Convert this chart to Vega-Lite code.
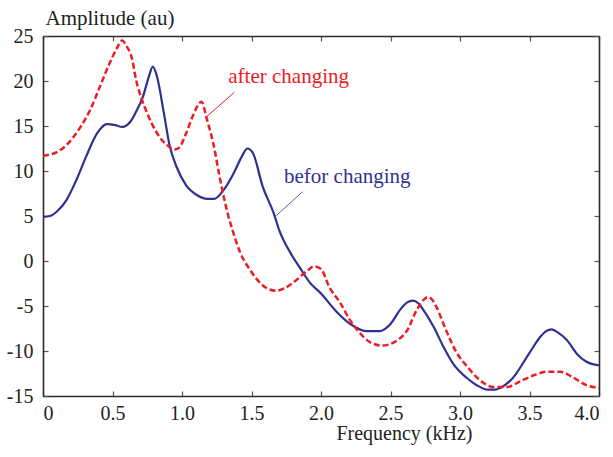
{
  "$schema": "https://vega.github.io/schema/vega-lite/v6.json",
  "autosize": "none",
  "width": 556,
  "height": 360,
  "padding": {"left": 43, "top": 36, "right": 14, "bottom": 61},
  "background": "white",
  "config": {
    "view": {"stroke": null},
    "font": "Liberation Serif",
    "axis": {
      "domainColor": "#2a2a2a",
      "domainWidth": 1.6,
      "tickColor": "#555555",
      "tickWidth": 1.2,
      "tickSize": -5,
      "grid": false,
      "labelFont": "Liberation Serif",
      "labelFontSize": 20,
      "labelColor": "#222222",
      "titleFont": "Liberation Serif",
      "titleFontSize": 20,
      "titleFontWeight": "normal",
      "titleColor": "#222222"
    }
  },
  "datasets": {
    "curves": [
      {"s": "before", "f": 0, "a": 4.9}, {"s": "before", "f": 0.05, "a": 5.0}, {"s": "before", "f": 0.1, "a": 5.5}, {"s": "before", "f": 0.17, "a": 6.8}, {"s": "before", "f": 0.24, "a": 9.0}, {"s": "before", "f": 0.31, "a": 11.6}, {"s": "before", "f": 0.39, "a": 14.2}, {"s": "before", "f": 0.46, "a": 15.2}, {"s": "before", "f": 0.52, "a": 15.1}, {"s": "before", "f": 0.57, "a": 14.9}, {"s": "before", "f": 0.63, "a": 15.5}, {"s": "before", "f": 0.67, "a": 16.6}, {"s": "before", "f": 0.72, "a": 18.3}, {"s": "before", "f": 0.76, "a": 20.4}, {"s": "before", "f": 0.79, "a": 21.6}, {"s": "before", "f": 0.82, "a": 20.5}, {"s": "before", "f": 0.87, "a": 16.4}, {"s": "before", "f": 0.91, "a": 12.9}, {"s": "before", "f": 0.96, "a": 10.5}, {"s": "before", "f": 1.03, "a": 8.4}, {"s": "before", "f": 1.11, "a": 7.3}, {"s": "before", "f": 1.18, "a": 6.9}, {"s": "before", "f": 1.23, "a": 6.9}, {"s": "before", "f": 1.3, "a": 7.9}, {"s": "before", "f": 1.37, "a": 9.7}, {"s": "before", "f": 1.43, "a": 11.6}, {"s": "before", "f": 1.47, "a": 12.5}, {"s": "before", "f": 1.51, "a": 12.0}, {"s": "before", "f": 1.58, "a": 8.3}, {"s": "before", "f": 1.66, "a": 5.3}, {"s": "before", "f": 1.7, "a": 3.4}, {"s": "before", "f": 1.78, "a": 0.9}, {"s": "before", "f": 1.85, "a": -0.8}, {"s": "before", "f": 1.92, "a": -2.4}, {"s": "before", "f": 2.0, "a": -3.6}, {"s": "before", "f": 2.11, "a": -5.6}, {"s": "before", "f": 2.23, "a": -7.2}, {"s": "before", "f": 2.33, "a": -7.8}, {"s": "before", "f": 2.42, "a": -7.8}, {"s": "before", "f": 2.5, "a": -7.0}, {"s": "before", "f": 2.57, "a": -5.4}, {"s": "before", "f": 2.62, "a": -4.6}, {"s": "before", "f": 2.66, "a": -4.4}, {"s": "before", "f": 2.7, "a": -4.7}, {"s": "before", "f": 2.73, "a": -5.3}, {"s": "before", "f": 2.81, "a": -7.3}, {"s": "before", "f": 2.88, "a": -9.5}, {"s": "before", "f": 2.95, "a": -11.4}, {"s": "before", "f": 3.05, "a": -13.0}, {"s": "before", "f": 3.12, "a": -13.8}, {"s": "before", "f": 3.2, "a": -14.3}, {"s": "before", "f": 3.25, "a": -14.3}, {"s": "before", "f": 3.29, "a": -14.1}, {"s": "before", "f": 3.38, "a": -13.0}, {"s": "before", "f": 3.5, "a": -10.2}, {"s": "before", "f": 3.58, "a": -8.4}, {"s": "before", "f": 3.62, "a": -7.8}, {"s": "before", "f": 3.66, "a": -7.6}, {"s": "before", "f": 3.7, "a": -7.9}, {"s": "before", "f": 3.77, "a": -8.8}, {"s": "before", "f": 3.84, "a": -10.3}, {"s": "before", "f": 3.91, "a": -11.2}, {"s": "before", "f": 4.0, "a": -11.6},
      {"s": "after", "f": 0, "a": 11.7}, {"s": "after", "f": 0.1, "a": 12.1}, {"s": "after", "f": 0.17, "a": 12.9}, {"s": "after", "f": 0.27, "a": 14.9}, {"s": "after", "f": 0.34, "a": 16.8}, {"s": "after", "f": 0.41, "a": 19.4}, {"s": "after", "f": 0.48, "a": 22.0}, {"s": "after", "f": 0.53, "a": 23.6}, {"s": "after", "f": 0.57, "a": 24.5}, {"s": "after", "f": 0.6, "a": 23.9}, {"s": "after", "f": 0.64, "a": 22.5}, {"s": "after", "f": 0.67, "a": 20.1}, {"s": "after", "f": 0.71, "a": 18.0}, {"s": "after", "f": 0.75, "a": 16.4}, {"s": "after", "f": 0.82, "a": 14.2}, {"s": "after", "f": 0.89, "a": 12.9}, {"s": "after", "f": 0.95, "a": 12.4}, {"s": "after", "f": 0.98, "a": 12.6}, {"s": "after", "f": 1.03, "a": 14.2}, {"s": "after", "f": 1.08, "a": 16.2}, {"s": "after", "f": 1.14, "a": 17.7}, {"s": "after", "f": 1.18, "a": 15.7}, {"s": "after", "f": 1.23, "a": 12.7}, {"s": "after", "f": 1.27, "a": 9.4}, {"s": "after", "f": 1.33, "a": 5.2}, {"s": "after", "f": 1.36, "a": 3.6}, {"s": "after", "f": 1.42, "a": 0.9}, {"s": "after", "f": 1.49, "a": -1.0}, {"s": "after", "f": 1.56, "a": -2.4}, {"s": "after", "f": 1.62, "a": -3.1}, {"s": "after", "f": 1.68, "a": -3.3}, {"s": "after", "f": 1.74, "a": -3.0}, {"s": "after", "f": 1.8, "a": -2.4}, {"s": "after", "f": 1.9, "a": -1.1}, {"s": "after", "f": 1.95, "a": -0.6}, {"s": "after", "f": 2.0, "a": -0.9}, {"s": "after", "f": 2.06, "a": -2.9}, {"s": "after", "f": 2.14, "a": -4.7}, {"s": "after", "f": 2.21, "a": -6.6}, {"s": "after", "f": 2.28, "a": -8.0}, {"s": "after", "f": 2.35, "a": -9.0}, {"s": "after", "f": 2.44, "a": -9.4}, {"s": "after", "f": 2.55, "a": -8.8}, {"s": "after", "f": 2.62, "a": -7.7}, {"s": "after", "f": 2.69, "a": -5.4}, {"s": "after", "f": 2.74, "a": -4.3}, {"s": "after", "f": 2.77, "a": -4.0}, {"s": "after", "f": 2.8, "a": -4.3}, {"s": "after", "f": 2.83, "a": -5.1}, {"s": "after", "f": 2.9, "a": -7.7}, {"s": "after", "f": 2.98, "a": -10.3}, {"s": "after", "f": 3.05, "a": -11.7}, {"s": "after", "f": 3.14, "a": -13.2}, {"s": "after", "f": 3.24, "a": -14.0}, {"s": "after", "f": 3.34, "a": -14.0}, {"s": "after", "f": 3.43, "a": -13.4}, {"s": "after", "f": 3.53, "a": -12.7}, {"s": "after", "f": 3.63, "a": -12.3}, {"s": "after", "f": 3.72, "a": -12.3}, {"s": "after", "f": 3.81, "a": -12.9}, {"s": "after", "f": 3.91, "a": -13.8}, {"s": "after", "f": 4.0, "a": -14.1}
    ],
    "notes": [
      {"s": "after", "label": "after changing", "tx": 1.333, "ty": 19.8, "lx1": 1.376, "ly1": 18.74, "lx2": 1.165, "ly2": 15.86},
      {"s": "before", "label": "befor changing", "tx": 1.734, "ty": 8.63, "lx1": 1.868, "ly1": 7.7, "lx2": 1.669, "ly2": 4.92}
    ]
  },
  "layer": [
    {
      "data": {"name": "curves"},
      "transform": [{"filter": "datum.s === 'before'"}],
      "mark": {"type": "line", "color": "#2e3192", "strokeWidth": 2.2, "interpolate": "monotone"},
      "encoding": {
        "x": {
          "field": "f", "type": "quantitative",
          "scale": {"domain": [0, 4], "nice": false, "zero": false},
          "axis": {
            "orient": "bottom",
            "values": [0, 0.5, 1, 1.5, 2, 2.5, 3, 3.5, 4],
            "labelExpr": "datum.value == 0 ? '0' : format(datum.value, '.1f')",
            "labelPadding": 12,
            "title": "Frequency (kHz)",
            "titleX": 429,
            "titleY": 43,
            "titleAlign": "right",
            "titleBaseline": "alphabetic",
            "titleAnchor": null
          }
        },
        "y": {
          "field": "a", "type": "quantitative",
          "scale": {"domain": [-15, 25], "nice": false, "zero": false},
          "axis": {
            "orient": "left",
            "values": [-15, -10, -5, 0, 5, 10, 15, 20, 25],
            "labelExpr": "'' + datum.value",
            "labelPadding": 15,
            "title": "Amplitude (au)",
            "titleFontSize": 21,
            "titleAngle": 0,
            "titleX": 2,
            "titleY": -12,
            "titleAlign": "left",
            "titleBaseline": "alphabetic",
            "titleAnchor": null
          }
        }
      }
    },
    {
      "data": {"name": "curves"},
      "transform": [{"filter": "datum.s === 'after'"}],
      "mark": {"type": "line", "color": "#ed1c24", "strokeWidth": 2.5, "strokeDash": [6, 3], "interpolate": "monotone"},
      "encoding": {
        "x": {"field": "f", "type": "quantitative", "axis": null},
        "y": {"field": "a", "type": "quantitative", "axis": null}
      }
    },
    {
      "data": {"name": "notes"},
      "mark": {"type": "rule", "strokeWidth": 1},
      "encoding": {
        "x": {"field": "lx1", "type": "quantitative", "axis": null},
        "y": {"field": "ly1", "type": "quantitative", "axis": null},
        "x2": {"field": "lx2"},
        "y2": {"field": "ly2"},
        "color": {"field": "s", "type": "nominal", "scale": {"domain": ["before", "after"], "range": ["#5a5fae", "#ed1c24"]}, "legend": null}
      }
    },
    {
      "data": {"name": "notes"},
      "mark": {"type": "text", "font": "Liberation Serif", "fontSize": 21, "align": "left", "baseline": "alphabetic"},
      "encoding": {
        "x": {
          "field": "tx", "type": "quantitative",
          "axis": {"orient": "top", "values": [0, 0.5, 1, 1.5, 2, 2.5, 3, 3.5, 4], "labels": false, "title": null}
        },
        "y": {
          "field": "ty", "type": "quantitative",
          "axis": {"orient": "right", "values": [-15, -10, -5, 0, 5, 10, 15, 20, 25], "labels": false, "title": null}
        },
        "text": {"field": "label"},
        "color": {"field": "s", "type": "nominal", "scale": {"domain": ["before", "after"], "range": ["#2e3192", "#ed1c24"]}, "legend": null}
      }
    }
  ],
  "resolve": {"axis": {"x": "independent", "y": "independent"}, "scale": {"color": "independent"}}
}
